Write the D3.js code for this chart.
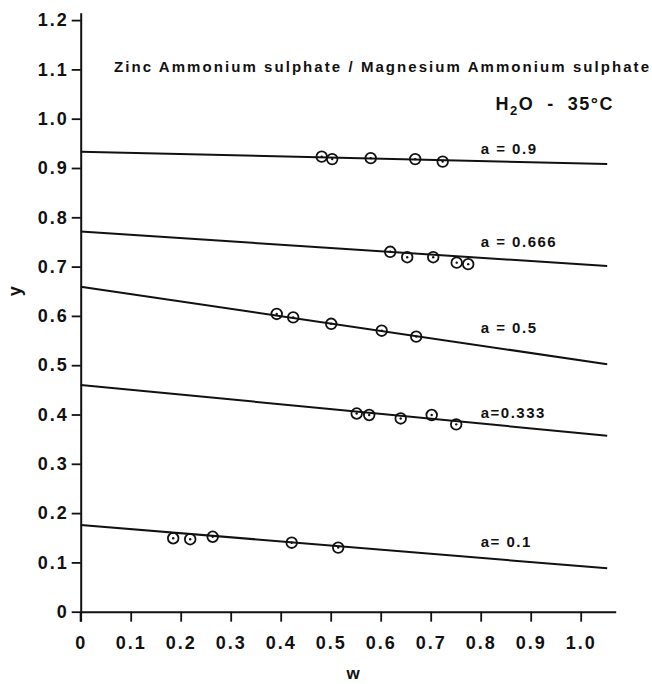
<!DOCTYPE html>
<html>
<head>
<meta charset="utf-8">
<script src="https://cdn.jsdelivr.net/npm/d3@7"></script>
<style>
  body { margin: 0; background: #fff; }
  svg { display: block; }
  text { font-family: "Liberation Sans", Arial, sans-serif; font-weight: bold; fill: #111; }
</style>
</head>
<body>
<svg width="652" height="684"></svg>
<script>
// tick values and labels
const xTicks = [0, 0.1, 0.2, 0.3, 0.4, 0.5, 0.6, 0.7, 0.8, 0.9, 1.0];
const xTickLabels = ["0", "0.1", "0.2", "0.3", "0.4", "0.5", "0.6", "0.7", "0.8", "0.9", "1.0"];
const yTicks = [0, 0.1, 0.2, 0.3, 0.4, 0.5, 0.6, 0.7, 0.8, 0.9, 1.0, 1.1, 1.2];
const yTickLabels = ["0", "0.1", "0.2", "0.3", "0.4", "0.5", "0.6", "0.7", "0.8", "0.9", "1.0", "1.1", "1.2"];

// fitted lines, value at w = 0 and at w = lineEndW
const seriesNames = ["a = 0.9", "a = 0.666", "a = 0.5", "a=0.333", "a= 0.1"];
const lineStartY = [0.933, 0.771, 0.659, 0.460, 0.176];
const lineEndY = [0.908, 0.701, 0.502, 0.357, 0.088];
const lineEndW = 1.053;

// measured points (w, y)
const pts09 = [[0.482, 0.923], [0.503, 0.918], [0.580, 0.920], [0.669, 0.918], [0.724, 0.913]];
const pts0666 = [[0.619, 0.730], [0.653, 0.719], [0.705, 0.719], [0.752, 0.708], [0.775, 0.705]];
const pts05 = [[0.392, 0.604], [0.425, 0.597], [0.501, 0.584], [0.602, 0.570], [0.671, 0.558]];
const pts0333 = [[0.552, 0.402], [0.577, 0.399], [0.640, 0.392], [0.702, 0.399], [0.751, 0.380]];
const pts01 = [[0.185, 0.149], [0.219, 0.147], [0.264, 0.152], [0.422, 0.140], [0.515, 0.130]];
const allPoints = [pts09, pts0666, pts05, pts0333, pts01];

// where the series labels sit (data units)
const labelW = 0.8;
const labelY = [0.940, 0.750, 0.575, 0.404, 0.141];

var svg = d3.select("svg");
var x = d3.scaleLinear().domain([0, 1.07]).range([80.7, 615.7]);
var y = d3.scaleLinear().domain([0, 1.215]).range([611.7, 12.7]);

// axes
var xAxis = svg.append("g")
    .attr("transform", "translate(0," + y(0) + ")")
    .call(d3.axisBottom(x)
        .tickValues(xTicks)
        .tickFormat((d, i) => xTickLabels[i])
        .tickSize(10)
        .tickSizeOuter(0));
xAxis.select(".domain").attr("stroke", "#111").attr("stroke-width", 2);
xAxis.selectAll(".tick line").attr("stroke", "#111").attr("stroke-width", 1.8);
xAxis.selectAll(".tick text")
    .attr("y", 31)
    .attr("dy", "0.35em")
    .style("font-size", "18px")
    .style("letter-spacing", "2px")
    .attr("fill", "#111");

var yAxis = svg.append("g")
    .attr("transform", "translate(" + x(0) + ",0)")
    .call(d3.axisLeft(y)
        .tickValues(yTicks)
        .tickFormat((d, i) => yTickLabels[i])
        .tickSize(9)
        .tickSizeOuter(0)
        .tickPadding(3));
yAxis.select(".domain").attr("stroke", "#111").attr("stroke-width", 2);
yAxis.selectAll(".tick line").attr("stroke", "#111").attr("stroke-width", 1.8);
yAxis.selectAll(".tick text")
    .style("font-size", "18px")
    .style("letter-spacing", "2px")
    .attr("fill", "#111");

// x tick at 0 crosses above the axis too
svg.append("line")
    .attr("x1", x(0)).attr("x2", x(0))
    .attr("y1", y(0)).attr("y2", y(0) + 10)
    .attr("stroke", "#111").attr("stroke-width", 2);

// axis titles
svg.append("text")
    .attr("x", x(0.545))
    .attr("y", 673)
    .attr("text-anchor", "middle")
    .attr("dy", "0.35em")
    .style("font-size", "17px")
    .text("w");
svg.append("text")
    .attr("transform", "translate(15," + y(0.65) + ") rotate(-90)")
    .attr("text-anchor", "middle")
    .attr("dy", "0.35em")
    .style("font-size", "18px")
    .text("y");

// fitted lines
svg.selectAll(".fit").data(seriesNames).enter().append("line")
    .attr("class", "fit")
    .attr("x1", x(0))
    .attr("y1", (d, i) => y(lineStartY[i]))
    .attr("x2", x(lineEndW))
    .attr("y2", (d, i) => y(lineEndY[i]))
    .attr("stroke", "#111")
    .attr("stroke-width", 2);

// points
var groups = svg.selectAll(".series").data(allPoints).enter().append("g").attr("class", "series");
groups.selectAll("circle.ring").data(d => d).enter().append("circle")
    .attr("class", "ring")
    .attr("cx", d => x(d[0]))
    .attr("cy", d => y(d[1]))
    .attr("r", 5.3)
    .attr("fill", "none")
    .attr("stroke", "#111")
    .attr("stroke-width", 1.8);
groups.selectAll("circle.dot").data(d => d).enter().append("circle")
    .attr("class", "dot")
    .attr("cx", d => x(d[0]))
    .attr("cy", d => y(d[1]))
    .attr("r", 1.2)
    .attr("fill", "#111");

// series labels
svg.selectAll(".alabel").data(seriesNames).enter().append("text")
    .attr("class", "alabel")
    .attr("x", x(labelW))
    .attr("y", (d, i) => y(labelY[i]))
    .attr("dy", "0.35em")
    .style("font-size", "15px")
    .style("letter-spacing", "1.5px")
    .style("white-space", "pre")
    .text(d => d);

// titles
svg.append("text")
    .attr("x", 114)
    .attr("y", 72)
    .attr("textLength", 535)
    .attr("lengthAdjust", "spacing")
    .style("font-size", "15px")
    .text("Zinc Ammonium sulphate / Magnesium Ammonium sulphate");

var sub = svg.append("text")
    .attr("x", 614)
    .attr("y", 110)
    .attr("text-anchor", "end")
    .style("font-size", "18px")
    .style("letter-spacing", "1.5px")
    .style("white-space", "pre");
sub.append("tspan").text("H");
sub.append("tspan").attr("dy", 5).style("font-size", "13px").text("2");
sub.append("tspan").attr("dy", -5).text("O  -  35°C");
</script>
</body>
</html>
